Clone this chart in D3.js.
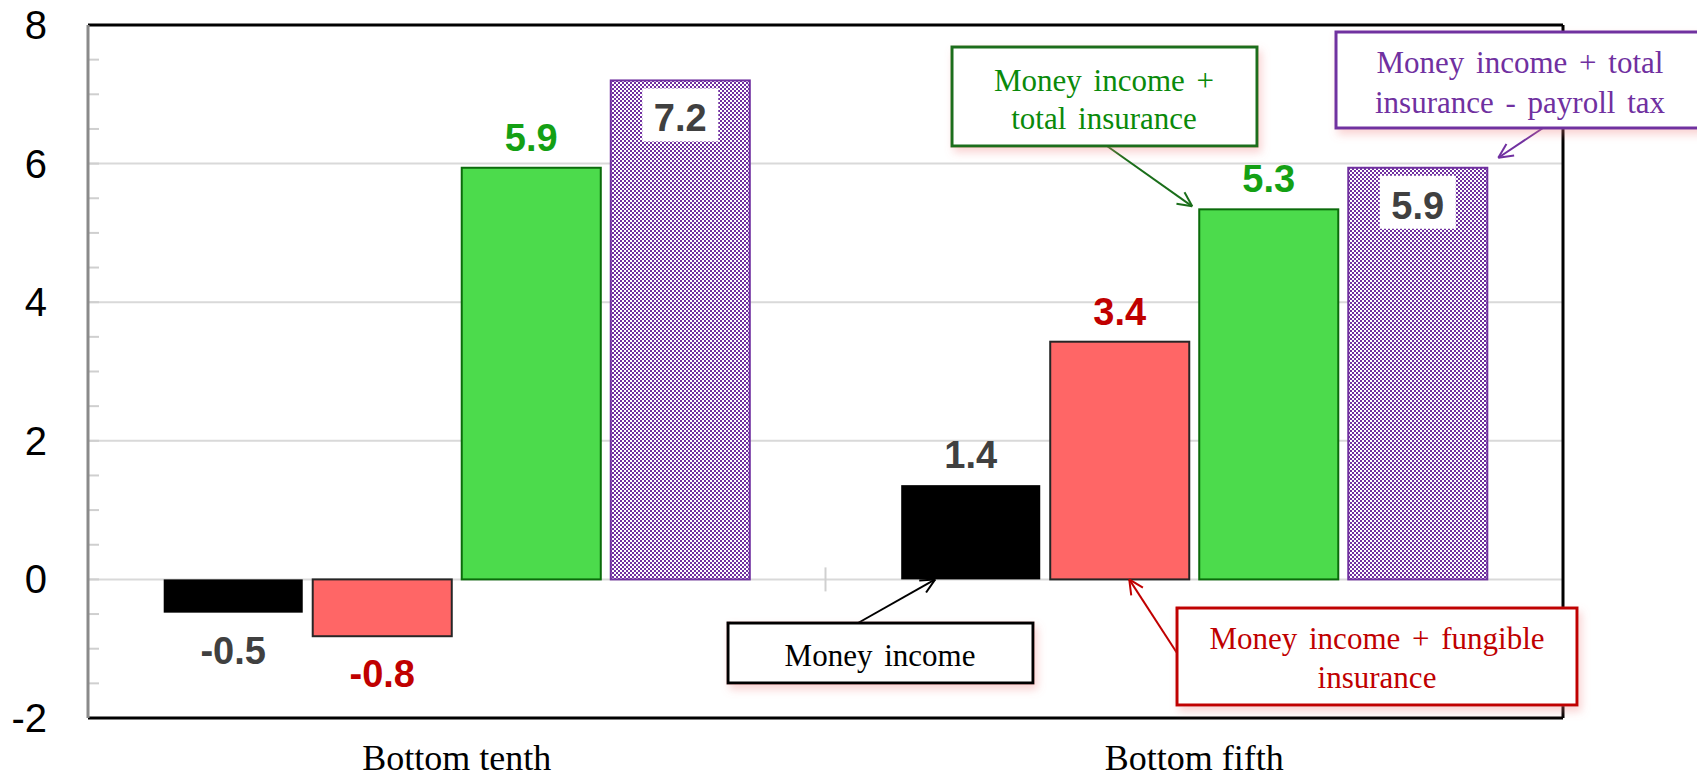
<!DOCTYPE html>
<html>
<head>
<meta charset="utf-8">
<script src="https://cdn.jsdelivr.net/npm/d3@7"></script>
<style>
  html, body { margin: 0; padding: 0; background: #fff; }
  svg { display: block; }
</style>
</head>
<body>
<svg id="chart" width="1697" height="779"></svg>
<script>
// ---------------- data ----------------
const categories = ["Bottom tenth", "Bottom fifth"];
const seriesNames = [
  "Money income",
  "Money income + fungible insurance",
  "Money income + total insurance",
  "Money income + total insurance - payroll tax"
];
const moneyIncome        = [-0.48, 1.36];
const fungibleInsurance  = [-0.82, 3.43];
const totalInsurance     = [5.94, 5.34];
const totalMinusPayroll  = [7.2, 5.94];
const yTicks = [-2, 0, 2, 4, 6, 8];

const seriesValues = [moneyIncome, fungibleInsurance, totalInsurance, totalMinusPayroll];

// ---------------- layout ----------------
const W = 1697, H = 779;
const plot = { left: 88, right: 1563, top: 25, bottom: 718 };

const svg = d3.select("#chart");
svg.append("rect").attr("width", W).attr("height", H).attr("fill", "#fff");

const defs = svg.append("defs");
const pat = defs.append("pattern").attr("id", "checker")
  .attr("patternUnits", "userSpaceOnUse").attr("width", 4).attr("height", 4);
pat.append("rect").attr("width", 4).attr("height", 4).attr("fill", "#fff");
pat.append("rect").attr("x", 0).attr("y", 0).attr("width", 2).attr("height", 2).attr("fill", "#7030a0");
pat.append("rect").attr("x", 2).attr("y", 2).attr("width", 2).attr("height", 2).attr("fill", "#7030a0");

const shadow = defs.append("filter").attr("id", "shadow")
  .attr("x", "-10%").attr("y", "-20%").attr("width", "130%").attr("height", "160%");
shadow.append("feDropShadow").attr("dx", 3).attr("dy", 5).attr("stdDeviation", 4)
  .attr("flood-color", "#f08080").attr("flood-opacity", 0.35);

const y = d3.scaleLinear().domain([-2, 8]).range([plot.bottom, plot.top]);
const x0 = d3.scaleBand().domain(categories).range([plot.left, plot.right]).padding(0);
const x1 = d3.scaleBand().domain(d3.range(seriesNames.length))
  .range([0, x0.bandwidth()]).paddingInner(0.067).paddingOuter(0.508);

// gridlines
const g = svg.append("g");
g.selectAll("line.grid").data(yTicks.filter(t => t > -2 && t < 8)).join("line")
  .attr("x1", plot.left).attr("x2", plot.right)
  .attr("y1", d => y(d)).attr("y2", d => y(d))
  .attr("stroke", "#d9d9d9").attr("stroke-width", 2);

// minor ticks on left
g.selectAll("line.minor").data(d3.range(-2, 8.001, 0.5)).join("line")
  .attr("x1", plot.left).attr("x2", plot.left + 11)
  .attr("y1", d => y(d)).attr("y2", d => y(d))
  .attr("stroke", "#cfcfcf").attr("stroke-width", 2);

// category boundary ticks
const catTicks = [plot.left, x0(categories[1]), plot.right];
g.selectAll("line.cat").data(catTicks).join("line")
  .attr("x1", d => d).attr("x2", d => d)
  .attr("y1", y(0) - 12).attr("y2", y(0) + 12)
  .attr("stroke", "#d0d0d0").attr("stroke-width", 2);

// frame
svg.append("line").attr("x1", plot.left).attr("x2", plot.right).attr("y1", plot.top).attr("y2", plot.top)
  .attr("stroke", "#000").attr("stroke-width", 3);
svg.append("line").attr("x1", plot.right).attr("x2", plot.right).attr("y1", plot.top).attr("y2", plot.bottom)
  .attr("stroke", "#000").attr("stroke-width", 3);
svg.append("line").attr("x1", plot.left).attr("x2", plot.right).attr("y1", plot.bottom).attr("y2", plot.bottom)
  .attr("stroke", "#000").attr("stroke-width", 3);
svg.append("line").attr("x1", plot.left).attr("x2", plot.left).attr("y1", plot.top).attr("y2", plot.bottom)
  .attr("stroke", "#8a8a8a").attr("stroke-width", 3);

// y tick labels
svg.selectAll("text.ytick").data(yTicks).join("text")
  .attr("x", 47).attr("y", d => y(d))
  .attr("text-anchor", "end").attr("dominant-baseline", "central")
  .attr("font-family", "Liberation Sans, Arial, sans-serif").attr("font-size", 40)
  .attr("fill", "#000").text(d => d);

// category labels
svg.selectAll("text.cat").data(categories).join("text")
  .attr("x", d => x0(d) + x0.bandwidth() / 2).attr("y", 770)
  .attr("text-anchor", "middle")
  .attr("font-family", "Liberation Serif, Times New Roman, serif").attr("font-size", 36)
  .attr("fill", "#000").text(d => d);

// bars
const fills   = ["#000000", "#ff6666", "#4cdb4c", "url(#checker)"];
const strokes = ["none", "#262626", "#0b6b0b", "#7030a0"];
const labelColors = ["#404040", "#c00000", "#14a014", "#404040"];

const barData = [];
categories.forEach((c, ci) => {
  seriesValues.forEach((vals, si) => {
    barData.push({ c, ci, si, v: vals[ci] });
  });
});

const bx = d => x0(d.c) + x1(d.si);
svg.append("g").selectAll("rect").data(barData).join("rect")
  .attr("x", bx)
  .attr("y", d => y(Math.max(0, d.v)))
  .attr("width", x1.bandwidth())
  .attr("height", d => Math.abs(y(d.v) - y(0)))
  .attr("fill", d => fills[d.si])
  .attr("stroke", d => strokes[d.si])
  .attr("stroke-width", 2);

// value labels
const fmt = v => v.toFixed(1);
const lab = svg.append("g").attr("font-family", "Liberation Sans, Arial, sans-serif")
  .attr("font-weight", "bold").attr("font-size", 38).attr("text-anchor", "middle");

barData.forEach(d => {
  const cx = bx(d) + x1.bandwidth() / 2;
  if (d.si === 3) {
    const top = y(d.v) + 8;
    lab.append("rect").attr("x", cx - 38).attr("y", top).attr("width", 76).attr("height", 53)
      .attr("fill", "#fff");
    lab.append("text").attr("x", cx).attr("y", top + 43)
      .attr("fill", labelColors[d.si]).text(fmt(d.v));
  } else if (d.v >= 0) {
    lab.append("text").attr("x", cx).attr("y", y(d.v) - 17)
      .attr("fill", labelColors[d.si]).text(fmt(d.v));
  } else {
    lab.append("text").attr("x", cx).attr("y", y(d.v) + 51)
      .attr("fill", labelColors[d.si]).text(fmt(d.v));
  }
});

// annotations
function barOf(ci, si) { return barData.find(d => d.ci === ci && d.si === si); }
const bb = barOf(1, 0), br = barOf(1, 1), bg = barOf(1, 2), bp = barOf(1, 3);

const annotations = [
  { box: [952, 47, 1257, 146], lines: ["Money income +", "total insurance"], ly: [80, 118], cx: 1104,
    text: "#0a8a0a", border: "#1a6e1a", from: [1107, 146], tip: [bx(bg) - 7, y(bg.v) - 3] },
  { box: [1336, 32, 1710, 128], lines: ["Money income + total", "insurance - payroll tax"], ly: [62, 102], cx: 1520,
    text: "#7030a0", border: "#7030a0", from: [1543, 128], tip: [bx(bp) + x1.bandwidth() + 11, y(bp.v) - 10] },
  { box: [728, 623, 1033, 683], lines: ["Money income"], ly: [655], cx: 880,
    text: "#000", border: "#000", from: [858, 623], tip: [bx(bb) + 34, y(0)] },
  { box: [1177, 608, 1577, 705], lines: ["Money income + fungible", "insurance"], ly: [638, 677], cx: 1377,
    text: "#c00000", border: "#c00000", from: [1177, 653], tip: [bx(br) + 79, y(0)] }
];

const ag = svg.append("g");
annotations.forEach(a => {
  ag.append("line").attr("x1", a.from[0]).attr("y1", a.from[1]).attr("x2", a.tip[0]).attr("y2", a.tip[1])
    .attr("stroke", a.border).attr("stroke-width", 2);
  const ang = Math.atan2(a.tip[1] - a.from[1], a.tip[0] - a.from[0]);
  const L = 16, spread = 0.45;
  [ang + Math.PI - spread, ang + Math.PI + spread].forEach(t => {
    ag.append("line").attr("x1", a.tip[0]).attr("y1", a.tip[1])
      .attr("x2", a.tip[0] + L * Math.cos(t)).attr("y2", a.tip[1] + L * Math.sin(t))
      .attr("stroke", a.border).attr("stroke-width", 2);
  });
  ag.append("rect").attr("x", a.box[0]).attr("y", a.box[1])
    .attr("width", a.box[2] - a.box[0]).attr("height", a.box[3] - a.box[1])
    .attr("fill", "#fff").attr("stroke", a.border).attr("stroke-width", 3)
    .attr("filter", "url(#shadow)");
  a.lines.forEach((ln, i) => {
    ag.append("text").attr("x", a.cx).attr("y", a.ly[i])
      .attr("text-anchor", "middle").attr("dominant-baseline", "central")
      .attr("font-family", "Liberation Serif, Times New Roman, serif").attr("font-size", 31)
      .attr("word-spacing", 4)
      .attr("fill", a.text).text(ln);
  });
});
</script>
</body>
</html>
